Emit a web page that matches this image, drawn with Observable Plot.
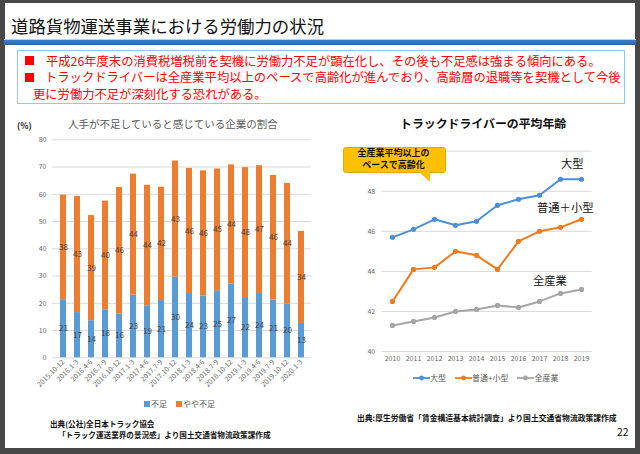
<!DOCTYPE html>
<html><head><meta charset="utf-8">
<script src="https://cdn.jsdelivr.net/npm/d3@7"></script>
<script src="https://cdn.jsdelivr.net/npm/@observablehq/plot@0.6"></script>
<style>
html,body{margin:0;padding:0;}
body{width:640px;height:454px;background:#474747;position:relative;overflow:hidden;font-family:"Noto Sans CJK JP","Noto Sans",sans-serif;}
#slide{position:absolute;left:5px;top:3px;width:630px;height:445px;background:#fff;}
.abs{position:absolute;white-space:nowrap;}
.red{color:#ff0000;font-size:12.3px;line-height:14px;}
.sq{position:absolute;width:9px;height:9px;background:#ff0000;}
.chart{position:absolute;}
.chart svg{overflow:visible;}
.leg{font-size:8px;color:#595959;line-height:10px;}
.src{font-size:7.6px;font-weight:bold;color:#111;line-height:10px;}
.ann{font-size:11.3px;color:#111;line-height:14px;}
</style></head>
<body>
<div id="slide"></div>
<div class="abs" style="left:11px;top:14px;font-size:17.4px;line-height:24px;color:#111;">道路貨物運送事業における労働力の状況</div>
<div class="abs" style="left:4px;top:39px;width:632px;height:6px;background:linear-gradient(#b7d2ee 0px,#b7d2ee 1.2px,#3d7cc4 1.2px,#2b65a9 6px);"></div>
<div class="abs" style="left:17px;top:50px;width:606px;height:52px;border:1px solid #9dc3e6;"></div>
<div class="sq" style="left:25px;top:56px;"></div>
<div class="abs red" style="left:46px;top:53.5px;">平成26年度末の消費税増税前を契機に労働力不足が顕在化し、その後も不足感は強まる傾向にある。</div>
<div class="sq" style="left:25px;top:73px;"></div>
<div class="abs red" style="left:45px;top:70px;">トラックドライバーは全産業平均以上のペースで高齢化が進んでおり、高齢層の退職等を契機として今後</div>
<div class="abs red" style="left:33px;top:86.5px;">更に労働力不足が深刻化する恐れがある。</div>

<div class="abs" style="left:17px;top:119px;font-size:8.5px;font-weight:bold;color:#222;line-height:12px;">(%)</div>
<div class="abs" style="left:68px;top:117px;font-size:10.5px;color:#595959;line-height:14px;">人手が不足していると感じている企業の割合</div>
<div class="abs" style="left:400px;top:115px;font-size:11.9px;font-weight:bold;color:#111;line-height:16px;">トラックドライバーの平均年齢</div>

<div id="left" class="chart" style="left:0px;top:130px;"></div>
<div id="right" class="chart" style="left:320px;top:140px;"></div>

<div id="leftLegend" class="abs leg" style="left:144px;top:399px;"></div>
<div class="abs src" style="left:50px;top:419px;">出典(公社)全日本トラック協会</div>
<div class="abs src" style="left:58px;top:429.5px;">「トラック運送業界の景況感」より国土交通省物流政策課作成</div>

<div id="rightLegend" class="abs leg" style="left:413px;top:373px;"></div>
<div class="abs src" style="left:357px;top:413px;font-size:7.8px;">出典:厚生労働省「賃金構造基本統計調査」より国土交通省物流政策課作成</div>
<div class="abs" style="left:617px;top:425px;font-size:10.5px;color:#111;line-height:14px;">22</div>

<div class="abs ann" style="left:561px;top:156px;">大型</div>
<div class="abs ann" style="left:537px;top:200px;">普通＋小型</div>
<div class="abs ann" style="left:533px;top:273px;">全産業</div>

<svg class="abs" style="left:410px;top:165px;" width="30" height="20"><polygon points="7,5 20,5 19.5,16" fill="#FFC000" stroke="#e0a800" stroke-width="0.6"/></svg>
<div class="abs" style="left:343px;top:147px;width:101px;height:24px;background:#FFC000;border:0.6px solid #e0a800;border-radius:3px;box-sizing:content-box;"></div>
<div class="abs" style="left:343px;top:147px;width:101px;text-align:center;font-size:9px;font-weight:bold;line-height:12px;color:#111;">全産業平均以上の<br>ペースで高齢化</div>
<svg class="abs" style="left:410px;top:165px;" width="30" height="20"><polygon points="7.6,4 19.6,4 19.2,15.4" fill="#FFC000"/></svg>

<script>
// ---- Left chart data: 人手が不足していると感じている企業の割合 (%)
const quarters = ["2015.10-12","2016.1-3","2016.4-6","2016.7-9","2016.10-12","2017.1-3","2017.4-6","2017.7-9","2017.10-12","2018.1-3","2018.4-6","2018.7-9","2018.10-12","2019.1-3","2019.4-6","2019.7-9","2019.10-12","2020.1-3"];
const shortage = [21.3,16.6,13.6,17.6,16.1,23.0,19.1,21.0,29.6,23.6,22.7,24.6,27.1,22.1,23.6,21.2,19.8,12.6];
const slightShortage = [38.4,42.6,38.6,39.9,46.4,44.4,44.2,41.6,42.6,45.9,45.9,44.7,43.7,47.7,46.9,45.7,44.2,33.8];
const shortageNames = ["不足","やや不足"];
const shortageColors = ["#5B9BD5","#ED7D31"];
const pctTicks = [0,10,20,30,40,50,60,70,80];

// ---- Right chart data: トラックドライバーの平均年齢
const years = ["2010","2011","2012","2013","2014","2015","2016","2017","2018","2019"];
const largeAge = [45.7,46.1,46.6,46.3,46.5,47.3,47.6,47.8,48.6,48.6];
const smallAge = [42.5,44.1,44.2,45.0,44.8,44.1,45.5,46.0,46.2,46.6];
const allIndustryAge = [41.3,41.5,41.7,42.0,42.1,42.3,42.2,42.5,42.9,43.1];
const ageSeries = ["大型","普通＋小型","全産業"];
const ageLegend = ["大型","普通+小型","全産業"];
const ageColors = ["#4A8FD8","#F07A1E","#A5A5A5"];
const ageGrid = [40,42,44,46,48,50];
const ageTickLabels = [40,42,44,46,48]; // 50 is hidden behind the callout

const FONT = "'Noto Sans CJK JP','Noto Sans',sans-serif";

// tidy rows
const barRows = [];
quarters.forEach((q,i)=>barRows.push({q, type:shortageNames[0], value:shortage[i]}));
quarters.forEach((q,i)=>barRows.push({q, type:shortageNames[1], value:slightShortage[i]}));

const left = Plot.plot({
  width: 320, height: 270,
  marginLeft: 52, marginRight: 9, marginTop: 9.3, marginBottom: 42.7,
  style: {fontFamily: FONT, background: "transparent", overflow: "visible"},
  x: {type: "band", domain: quarters, paddingInner: 0.58, paddingOuter: 0.29, axis: null, label: null},
  y: {domain: [0, 80], axis: null, label: null},
  color: {domain: shortageNames, range: shortageColors},
  marks: [
    Plot.gridY(pctTicks, {stroke: "#d9d9d9", strokeOpacity: 1, strokeWidth: 1}),
    Plot.axisY(pctTicks, {tickSize: 0, tickPadding: 6, fontSize: 7, fill: "#666", label: null}),
    Plot.barY(barRows, {x: "q", y: "value", fill: "type"}),
    Plot.text(barRows, Plot.stackY({x: "q", y: "value", text: d => Math.round(d.value), fill: "#404040", fontSize: 8})),
    Plot.axisX({tickSize: 0, tickPadding: 3, tickRotate: -45, fontSize: 7, fill: "#666", label: null})
  ]
});
document.getElementById("left").appendChild(left);

const lineRows = [];
[largeAge, smallAge, allIndustryAge].forEach((arr, s) =>
  years.forEach((y, i) => lineRows.push({year: y, series: ageSeries[s], age: arr[i]})));

const right = Plot.plot({
  width: 320, height: 230,
  marginLeft: 61.7, marginRight: 48.3, marginTop: 10.7, marginBottom: 19,
  style: {fontFamily: FONT, background: "transparent", overflow: "visible"},
  x: {type: "point", domain: years, padding: 0.5, axis: null, label: null},
  y: {domain: [40, 50], axis: null, label: null},
  color: {domain: ageSeries, range: ageColors},
  marks: [
    Plot.gridY(ageGrid, {stroke: "#d9d9d9", strokeOpacity: 1, strokeWidth: 1}),
    Plot.axisY(ageTickLabels, {tickSize: 0, tickPadding: 7, fontSize: 7, fill: "#666", label: null}),
    Plot.axisX({tickSize: 0, tickPadding: 5, fontSize: 7, fill: "#666", label: null}),
    Plot.line(lineRows, {x: "year", y: "age", stroke: "series", strokeWidth: 2}),
    Plot.dot(lineRows, {x: "year", y: "age", fill: "series", r: 2.6})
  ]
});
document.getElementById("right").appendChild(right);

// legends
const ll = document.getElementById("leftLegend");
ll.innerHTML = shortageNames.map((n,i) =>
  `<span style="display:inline-block;width:6px;height:6px;background:${shortageColors[i]};margin-right:1px;vertical-align:0px;"></span>${n}`
).join('<span style="display:inline-block;width:9px"></span>');

const rl = document.getElementById("rightLegend");
rl.innerHTML = ageLegend.map((n,i) =>
  `<svg width="17" height="8" style="vertical-align:-0.5px"><line x1="0" x2="17" y1="4" y2="4" stroke="${ageColors[i]}" stroke-width="1.8"/><circle cx="8.5" cy="4" r="2.4" fill="${ageColors[i]}"/></svg>${n}`
).join('<span style="display:inline-block;width:9px"></span>');
</script>
</body></html>
